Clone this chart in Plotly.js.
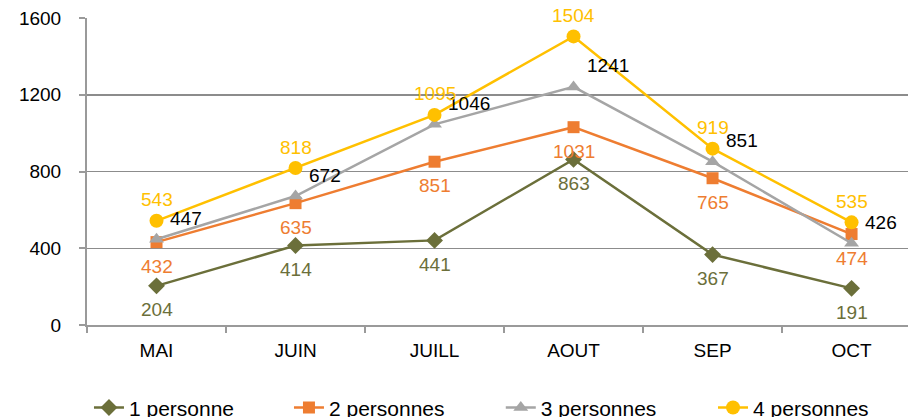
<!DOCTYPE html>
<html>
<head>
<meta charset="utf-8">
<script src="https://cdn.plot.ly/plotly-3.0.1.min.js"></script>
<style>html,body{margin:0;padding:0;background:#fff;}#chart{width:908px;height:417px;}</style>
</head>
<body>
<div id="chart"></div>
<script>
const months = ["MAI", "JUIN", "JUILL", "AOUT", "SEP", "OCT"];
const seriesNames = ["1 personne", "2 personnes", "3 personnes", "4 personnes"];
const p1 = [204, 414, 441, 863, 367, 191];
const p2 = [432, 635, 851, 1031, 765, 474];
const p3 = [447, 672, 1046, 1241, 851, 426];
const p4 = [543, 818, 1095, 1504, 919, 535];
const yTicks = [0, 400, 800, 1200, 1600];

const FONT = "Liberation Sans, Arial, Helvetica, sans-serif";
const colors = ["#6b6f3a", "#ee7d31", "#a5a5a5", "#ffc000"];
const labelColors = ["#6b6f3a", "#ee7d31", "#000000", "#ffc000"];
const symbols = ["diamond", "square", "triangle-up", "circle"];
const sizes = [13, 12, 13, 14];
const allData = [p1, p2, p3, p4];
const legendIds = ["legend", "legend2", "legend3", "legend4"];
const legendX = [0.0024, 0.246, 0.504, 0.7625];

const traces = allData.map((vals, i) => ({
  type: "scatter",
  mode: "lines+markers",
  name: seriesNames[i],
  legend: legendIds[i],
  x: months,
  y: vals,
  line: {color: colors[i], width: 2.5},
  marker: {symbol: symbols[i], size: sizes[i], color: colors[i]},
  hoverinfo: "skip"
}));

// label placement per series
const place = [
  {xanchor: "center", xshift: 0, yshift: -24},
  {xanchor: "center", xshift: 0, yshift: -24},
  {xanchor: "left", xshift: 11, yshift: 21},
  {xanchor: "center", xshift: 0, yshift: 21}
];
const annotations = [];
allData.forEach((vals, i) => {
  vals.forEach((v, j) => {
    annotations.push({
      x: months[j], y: v, xref: "x", yref: "y",
      text: String(v), showarrow: false,
      xanchor: place[i].xanchor, yanchor: "middle",
      xshift: place[i].xshift, yshift: place[i].yshift,
      font: {family: FONT, size: 19, color: labelColors[i]}
    });
  });
});

const layout = {
  width: 908, height: 417,
  margin: {l: 87, r: 0, t: 18, b: 92, autoexpand: false},
  paper_bgcolor: "#ffffff",
  plot_bgcolor: "#ffffff",
  font: {family: FONT, size: 19, color: "#000"},
  showlegend: true,
  xaxis: {
    type: "category",
    categoryorder: "array",
    categoryarray: months,
    range: [-0.5, 5.406],
    showgrid: false,
    showline: true, linecolor: "#9a9a9a", linewidth: 2,
    ticks: "outside", tickson: "boundaries", ticklen: 6, tickcolor: "#9a9a9a", tickwidth: 2,
    ticklabelstandoff: 7,
    tickfont: {family: FONT, size: 19, color: "#000"},
    zeroline: false, fixedrange: true
  },
  yaxis: {
    range: [0, 1600],
    tickvals: yTicks,
    ticktext: yTicks.map(String),
    showgrid: true, gridcolor: "#8c8c8c", gridwidth: 1.5,
    showline: true, linecolor: "#9a9a9a", linewidth: 2,
    ticks: "outside", ticklen: 6, tickcolor: "#9a9a9a", tickwidth: 2,
    ticklabelstandoff: 14,
    tickfont: {family: FONT, size: 19, color: "#000"},
    zeroline: false, fixedrange: true
  },
  annotations: annotations
};
legendIds.forEach((id, i) => {
  layout[id] = {
    orientation: "h",
    x: legendX[i], xanchor: "left",
    y: -0.27, yanchor: "middle",
    bgcolor: "rgba(0,0,0,0)",
    font: {family: FONT, size: 21, color: "#000"}
  };
});

Plotly.newPlot("chart", traces, layout, {staticPlot: true, displayModeBar: false});
</script>
</body>
</html>
